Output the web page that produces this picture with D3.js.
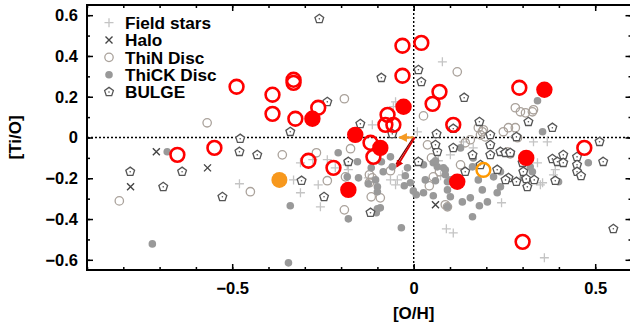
<!DOCTYPE html>
<html><head><meta charset="utf-8">
<script src="https://cdn.jsdelivr.net/npm/d3@7"></script>
<style>
html,body{margin:0;padding:0;background:#fff;}
svg{display:block;font-family:"Liberation Sans",Arial,sans-serif;font-weight:bold;}
</style></head>
<body><svg id="c" width="630" height="329"></svg>
<script>
// ---- data ([O/H], [Ti/O]) ----
const fieldStars = [[-0.480,-0.227],[0.079,0.371],[-0.050,0.175],[-0.331,-0.208],[-0.263,-0.232],[-0.257,-0.340],
 [-0.238,-0.109],[-0.216,-0.149],[-0.183,-0.134],[-0.180,-0.158],[-0.125,-0.198],[-0.064,-0.208],[-0.045,-0.208],
 [-0.114,0.062],[-0.056,0.151],[-0.278,-0.109],[-0.312,-0.124],[-0.312,-0.271],[0.074,-0.188],[0.010,0.028],
 [0.090,-0.448],[0.109,-0.468],[0.360,-0.590],[0.242,-0.320],[0.330,-0.021],[0.368,-0.021],[0.390,-0.158],
 [0.349,-0.232],[0.068,-0.114],[0.101,-0.085],[0.164,-0.051],[0.137,-0.021],[0.275,0.003],[0.385,-0.183],
 [0.341,-0.124],[0.355,-0.222],[-0.031,-0.183],[-0.050,-0.232]];
const halo = [[-0.709,-0.070],[-0.780,-0.242],[-0.568,-0.149],[0.060,-0.330]];
const thinDisc = [[-0.191,0.190],[0.120,0.322],[-0.569,0.072],[-0.811,-0.311],[-0.450,-0.266],[-0.362,-0.085],
 [-0.268,-0.075],[-0.174,-0.055],[-0.238,-0.212],[-0.188,-0.193],[-0.122,-0.183],[-0.064,-0.163],[-0.117,-0.291],
 [-0.092,-0.296],[-0.191,-0.355],[0.027,0.106],[0.038,-0.036],[0.043,-0.237],[0.093,-0.340],[0.071,-0.168],
 [0.049,-0.100],[-0.114,-0.198],[-0.122,-0.222],[0.280,0.146],[0.294,0.126],[0.308,0.121],[0.327,0.126],
 [0.247,0.028],[0.261,0.048],[0.192,0.038],[0.184,0.013],[0.197,0.003],[0.156,-0.011],[0.142,-0.026],
 [0.286,-0.001],[0.258,-0.070],[0.266,-0.080],[0.129,-0.134],[0.087,-0.330],[0.280,0.048],[0.054,-0.193],
 [0.330,0.136],[0.178,0.048],[0.189,0.028]];
const thickDisc = [[-0.679,-0.070],[-0.720,-0.522],[-0.340,-0.335],[-0.180,-0.399],[-0.100,-0.350],[-0.034,-0.443],
 [-0.345,-0.615],[-0.208,-0.075],[-0.183,-0.119],[-0.183,-0.193],[-0.152,-0.198],[-0.117,-0.149],[-0.105,-0.208],
 [-0.100,-0.242],[-0.089,-0.119],[-0.084,-0.168],[-0.023,-0.188],[-0.009,-0.222],[-0.026,-0.237],[-0.001,-0.262],
 [-0.017,-0.149],[-0.155,-0.119],[-0.092,-0.345],[-0.103,-0.369],[-0.064,-0.095],[-0.059,-0.144],[-0.100,-0.266],
 [-0.125,-0.227],[0.027,-0.134],[0.054,-0.124],[0.065,-0.144],[0.032,-0.208],[0.060,-0.212],[0.087,-0.158],
 [0.093,-0.217],[0.093,-0.257],[0.007,-0.281],[0.054,-0.286],[0.027,-0.271],[0.101,-0.291],[0.060,-0.114],
 [0.082,-0.149],[0.087,-0.183],[0.129,-0.051],[0.101,-0.208],[0.164,-0.100],[0.162,-0.144],[0.178,-0.208],
 [0.189,-0.257],[0.181,-0.335],[0.203,-0.316],[0.220,-0.193],[0.239,-0.168],[0.239,-0.242],[0.230,-0.271],
 [0.156,-0.296],[0.134,-0.316],[0.162,-0.389],[0.321,-0.144],[0.327,-0.168],[0.302,-0.198],[0.355,0.028],
 [0.341,0.180],[0.399,-0.217],[0.481,-0.124],[0.093,-0.340]];
const bulge = [[-0.260,0.582],[-0.089,0.293],[0.013,0.332],[0.021,0.273],[-0.238,0.175],[0.139,0.195],
 [-0.478,-0.006],[-0.480,-0.070],[-0.431,-0.085],[-0.781,-0.168],[-0.638,-0.168],[-0.690,-0.242],[-0.527,-0.291],
 [-0.340,0.028],[-0.147,0.067],[-0.309,-0.212],[-0.180,-0.119],[-0.247,-0.291],[-0.119,-0.369],[-0.059,0.018],
 [0.013,-0.119],[0.063,0.018],[0.065,-0.070],[0.060,-0.036],[0.109,0.043],[0.109,-0.051],[0.181,0.077],
 [0.211,0.013],[0.211,-0.036],[0.211,-0.085],[0.162,-0.085],[0.142,-0.168],[0.184,-0.134],[0.239,-0.070],
 [0.253,-0.075],[0.266,-0.075],[0.230,-0.158],[0.261,-0.198],[0.283,-0.217],[0.283,0.003],[0.316,0.077],
 [0.382,0.048],[0.300,-0.124],[0.302,-0.168],[0.310,-0.203],[0.313,-0.242],[0.332,-0.208],[0.390,-0.212],
 [0.382,-0.105],[0.396,-0.119],[0.412,-0.085],[0.412,-0.124],[0.450,-0.095],[0.450,-0.134],[0.450,-0.168],
 [0.461,-0.188],[0.512,-0.021],[0.522,-0.119],[0.253,-0.208],[0.550,-0.448]];
const redOpen = [[-0.488,0.249],[-0.389,0.210],[-0.389,0.116],[-0.331,0.283],[-0.331,0.268],[-0.326,0.092],
 [-0.263,0.146],[-0.651,-0.085],[-0.549,-0.051],[-0.290,-0.114],[-0.221,-0.149],[-0.119,-0.026],[-0.111,-0.095],
 [-0.072,0.111],[-0.078,0.062],[-0.056,0.062],[-0.031,0.450],[0.021,0.464],[-0.031,0.303],[0.071,0.224],
 [0.052,0.165],[0.109,0.062],[0.291,0.244],[0.470,-0.051],[0.300,-0.512]];
const redFilled = [[-0.279,0.092],[-0.028,0.151],[-0.161,0.013],[-0.092,-0.051],[-0.180,-0.257],[0.120,-0.217],
 [0.310,-0.100],[0.360,0.234]];
const orangeFilled = [[-0.370,-0.208]];
const orangeOpen = [[0.192,-0.159]];
// arrows: [x0, y0, x1, y1]
const arrowOrange = [0.0, 0.0, -0.038, 0.0];
const arrowRed = [0.0, 0.0, -0.046, -0.142];
const xTicksMajor = [-0.5, 0, 0.5];
const yTicksMajor = [-0.6, -0.4, -0.2, 0, 0.2, 0.4, 0.6];
const legendLabels = ["Field stars", "Halo", "ThiN Disc", "ThiCK Disc", "BULGE"];

// ---- chart ----
const svg = d3.select("#c");
const L = 87, R = 631.5, T = 5, B = 270;
const x = d3.scaleLinear().domain([-0.9, 0.6]).range([L, R]);
const y = d3.scaleLinear().domain([-0.65, 0.65]).range([B, T]);
const minorX = d3.range(-9, 7).map(i => i / 10);
const minorY = d3.range(-6, 7).map(i => i / 10);
const fmt = d => d === 0 ? "0" : d3.format(".1f")(d);

// zero lines
svg.append("line").attr("x1", L).attr("x2", R).attr("y1", y(0)).attr("y2", y(0))
  .attr("stroke", "#000").attr("stroke-width", 1.4).attr("stroke-dasharray", "2,2");
svg.append("line").attr("x1", x(0)).attr("x2", x(0)).attr("y1", T).attr("y2", B)
  .attr("stroke", "#000").attr("stroke-width", 1.4).attr("stroke-dasharray", "2,2");

const plot = svg.append("g");
function plusPath(s){ return `M${-s},0H${s}M0,${-s}V${s}`; }
function timesPath(s){ return `M${-s},${-s}L${s},${s}M${-s},${s}L${s},${-s}`; }
function pentagon(r){
  const pts = d3.range(5).map(i => { const a = -Math.PI/2 + i*2*Math.PI/5; return [r*Math.cos(a), r*Math.sin(a)]; });
  return d3.line()(pts) + "Z";
}
function drawField(g, data){
  g.selectAll(null).data(data).join("path")
    .attr("transform", d => `translate(${x(d[0])},${y(d[1])})`)
    .attr("d", plusPath(4.5)).attr("stroke", "#c4c4c4").attr("stroke-width", 1.3).attr("fill", "none");
}
function drawHalo(g, data){
  g.selectAll(null).data(data).join("path")
    .attr("transform", d => `translate(${x(d[0])},${y(d[1])})`)
    .attr("d", timesPath(3.5)).attr("stroke", "#444").attr("stroke-width", 1.4).attr("fill", "none");
}
function drawThin(g, data){
  g.selectAll(null).data(data).join("circle")
    .attr("cx", d => x(d[0])).attr("cy", d => y(d[1])).attr("r", 4.2)
    .attr("fill", "none").attr("stroke", "#aaa29b").attr("stroke-width", 1.3);
}
function drawThick(g, data){
  g.selectAll(null).data(data).join("circle")
    .attr("cx", d => x(d[0])).attr("cy", d => y(d[1])).attr("r", 3.8).attr("fill", "#999");
}
function drawBulge(g, data){
  const s = g.selectAll(null).data(data).join("g")
    .attr("transform", d => `translate(${x(d[0])},${y(d[1])})`);
  s.append("path").attr("d", pentagon(4.6)).attr("fill", "#fff").attr("stroke", "#555").attr("stroke-width", 1.3);
  s.append("circle").attr("r", 0.8).attr("fill", "#555");
}
drawField(plot.append("g"), fieldStars);
drawThin(plot.append("g"), thinDisc);
drawThick(plot.append("g"), thickDisc);
drawHalo(plot.append("g"), halo);
drawBulge(plot.append("g"), bulge);

plot.append("g").selectAll(null).data(redOpen).join("circle")
  .attr("cx", d => x(d[0])).attr("cy", d => y(d[1])).attr("r", 6.9)
  .attr("fill", "none").attr("stroke", "#ff0000").attr("stroke-width", 2.6);
plot.append("g").selectAll(null).data(redFilled).join("circle")
  .attr("cx", d => x(d[0])).attr("cy", d => y(d[1])).attr("r", 8.2).attr("fill", "#ff0000");
plot.append("g").selectAll(null).data(orangeFilled).join("circle")
  .attr("cx", d => x(d[0])).attr("cy", d => y(d[1])).attr("r", 8).attr("fill", "#f7981d");
plot.append("g").selectAll(null).data(orangeOpen).join("circle")
  .attr("cx", d => x(d[0])).attr("cy", d => y(d[1])).attr("r", 6.9)
  .attr("fill", "none").attr("stroke", "#ff9900").attr("stroke-width", 2.4);

// arrows
const defs = svg.append("defs");
function marker(id, color){
  defs.append("marker").attr("id", id).attr("viewBox", "0 0 10 10").attr("refX", 8).attr("refY", 5)
    .attr("markerWidth", 4).attr("markerHeight", 4).attr("orient", "auto")
    .append("path").attr("d", "M0,0L10,5L0,10Z").attr("fill", color);
}
marker("ao", "#f59a23"); marker("ar", "#e00000");
svg.append("line").attr("x1", x(arrowOrange[0])).attr("y1", y(arrowOrange[1]))
  .attr("x2", x(arrowOrange[2])).attr("y2", y(arrowOrange[3]))
  .attr("stroke", "#f59a23").attr("stroke-width", 2.2).attr("marker-end", "url(#ao)");
svg.append("line").attr("x1", x(arrowRed[0]) - 1).attr("y1", y(arrowRed[1]) + 1)
  .attr("x2", x(arrowRed[2]) - 1).attr("y2", y(arrowRed[3]) - 2)
  .attr("stroke", "#6b0000").attr("stroke-width", 1.3);
svg.append("line").attr("x1", x(arrowRed[0]) + 1).attr("y1", y(arrowRed[1]))
  .attr("x2", x(arrowRed[2])).attr("y2", y(arrowRed[3]))
  .attr("stroke", "#e00000").attr("stroke-width", 1.8).attr("marker-end", "url(#ar)");

// axes
function styleAxis(g){
  g.select(".domain").remove();
  g.selectAll(".tick line").attr("stroke", "#000").attr("stroke-width", 1.5);
  g.selectAll("text").attr("font-size", 16.5).attr("font-weight", "bold")
   .attr("font-family", "'Liberation Sans', Arial, sans-serif").attr("fill", "#000");
}
svg.append("g").attr("transform", `translate(0,${B})`)
  .call(d3.axisBottom(x).tickValues(minorX).tickSize(-3).tickFormat("")).call(styleAxis);
svg.append("g").attr("transform", `translate(0,${B})`)
  .call(d3.axisBottom(x).tickValues(xTicksMajor).tickSize(-6).tickPadding(12).tickFormat(fmt)).call(styleAxis);
svg.append("g").attr("transform", `translate(0,${T})`)
  .call(d3.axisTop(x).tickValues(minorX).tickSize(-3).tickFormat("")).call(styleAxis);
svg.append("g").attr("transform", `translate(0,${T})`)
  .call(d3.axisTop(x).tickValues(xTicksMajor).tickSize(-6).tickFormat("")).call(styleAxis);
svg.append("g").attr("transform", `translate(${L},0)`)
  .call(d3.axisLeft(y).tickValues(minorY).tickSize(-3).tickFormat("")).call(styleAxis);
svg.append("g").attr("transform", `translate(${L},0)`)
  .call(d3.axisLeft(y).tickValues(yTicksMajor).tickSize(-6).tickPadding(9).tickFormat(fmt)).call(styleAxis);
svg.append("g").attr("transform", `translate(${R},0)`)
  .call(d3.axisRight(y).tickValues(minorY).tickSize(-3).tickFormat("")).call(styleAxis);
svg.append("g").attr("transform", `translate(${R},0)`)
  .call(d3.axisRight(y).tickValues(yTicksMajor).tickSize(-6).tickFormat("")).call(styleAxis);
svg.append("rect").attr("x", L).attr("y", T).attr("width", R - L).attr("height", B - T)
  .attr("fill", "none").attr("stroke", "#000").attr("stroke-width", 2);

// axis titles
svg.append("text").attr("x", x(0)).attr("y", 319).attr("text-anchor", "middle")
  .attr("font-size", 17).text("[O/H]");
svg.append("text").attr("transform", `translate(21,${y(0)}) rotate(-90)`).attr("text-anchor", "middle")
  .attr("font-size", 17).text("[Ti/O]");

// legend
const lg = svg.append("g");
const ly = d3.scalePoint().domain(legendLabels).range([22.7, 92]);
const mx = 109;
legendLabels.forEach(lab => {
  const gy = ly(lab);
  const g = lg.append("g");
  if (lab === "Field stars") drawField(g, [[x.invert(mx), y.invert(gy)]]);
  if (lab === "Halo") drawHalo(g, [[x.invert(mx), y.invert(gy)]]);
  if (lab === "ThiN Disc") drawThin(g, [[x.invert(mx), y.invert(gy)]]);
  if (lab === "ThiCK Disc") drawThick(g, [[x.invert(mx), y.invert(gy)]]);
  if (lab === "BULGE") drawBulge(g, [[x.invert(mx), y.invert(gy)]]);
  lg.append("text").attr("x", 125).attr("y", gy).attr("dy", "0.36em")
    .attr("font-size", 17.2).text(lab);
});
</script></body></html>
